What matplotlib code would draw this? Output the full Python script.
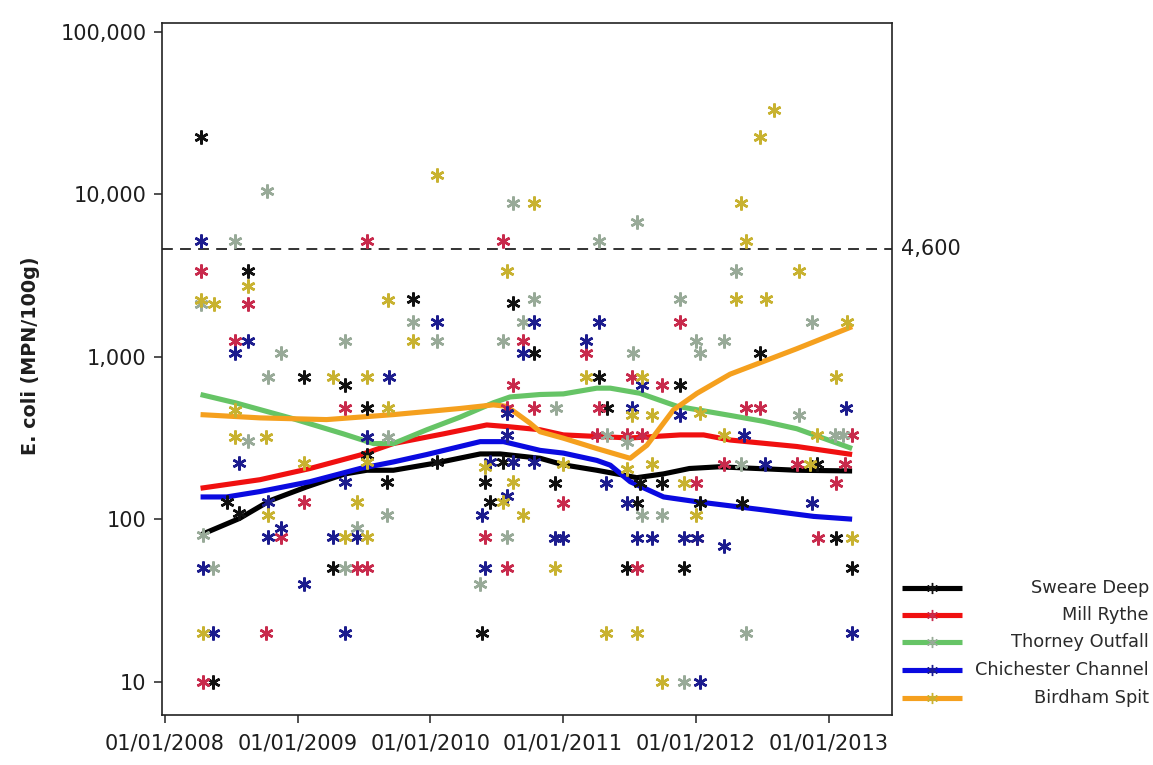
import datetime as dt

import matplotlib
matplotlib.use("Agg")
import matplotlib.pyplot as plt
import matplotlib.dates as mdates
from matplotlib.lines import Line2D
from matplotlib.ticker import FixedLocator, FuncFormatter, NullLocator

# ---------------------------------------------------------------- data
sites = ["Sweare Deep", "Mill Rythe", "Thorney Outfall",
         "Chichester Channel", "Birdham Spit"]

# individual E. coli results (MPN/100g)
sweare_dates = ["2008-04-08", "2008-05-13", "2008-06-19", "2008-07-23", "2008-08-17",
                "2009-01-18", "2009-04-07", "2009-05-11", "2009-07-10", "2009-07-10",
                "2009-09-02", "2009-11-15", "2010-01-18", "2010-05-22", "2010-05-31",
                "2010-06-14", "2010-07-21", "2010-08-15", "2010-08-17", "2010-10-12",
                "2010-12-10", "2011-04-09", "2011-05-02", "2011-06-26", "2011-07-25",
                "2011-08-01", "2011-09-30", "2011-11-20", "2011-11-29", "2012-01-14",
                "2012-05-08", "2012-06-25", "2012-11-30", "2013-01-22", "2013-03-07"]
sweare_ecoli = [22600, 10, 128, 109, 3370,
                750, 50, 670, 480, 250,
                170, 2260, 225, 20, 170,
                128, 225, 225, 2130, 1060,
                166, 750, 480, 50, 125,
                166, 166, 670, 50, 125,
                125, 1060, 220, 77, 50]

mill_dates = ["2008-04-08", "2008-04-14", "2008-07-12", "2008-08-17", "2008-10-05",
              "2008-11-16", "2009-01-18", "2009-05-11", "2009-06-12", "2009-07-10",
              "2009-07-11", "2010-05-31", "2010-07-21", "2010-07-30", "2010-07-30",
              "2010-08-17", "2010-09-14", "2010-10-12", "2011-01-02", "2011-03-06",
              "2011-04-04", "2011-04-09", "2011-06-26", "2011-07-10", "2011-07-25",
              "2011-08-06", "2011-09-30", "2011-11-20", "2012-01-03", "2012-01-05",
              "2012-03-18", "2012-05-19", "2012-06-27", "2012-10-06", "2012-12-02",
              "2013-01-22", "2013-02-16", "2013-03-07"]
mill_ecoli = [3370, 10, 1250, 2100, 20,
              78, 128, 480, 50, 50,
              5150, 78, 5150, 480, 50,
              670, 1250, 480, 125, 1060,
              330, 480, 330, 750, 50,
              330, 670, 1625, 166, 77,
              220, 480, 480, 220, 77,
              166, 220, 330]

thorney_dates = ["2008-04-08", "2008-04-14", "2008-05-13", "2008-07-12", "2008-08-17",
                 "2008-10-07", "2008-10-12", "2008-11-16", "2009-05-11", "2009-05-11",
                 "2009-06-12", "2009-09-02", "2009-09-06", "2009-11-15", "2010-01-20",
                 "2010-05-18", "2010-07-21", "2010-07-30", "2010-08-15", "2010-09-14",
                 "2010-10-12", "2010-12-13", "2011-04-09", "2011-05-02", "2011-06-26",
                 "2011-07-12", "2011-07-25", "2011-08-06", "2011-09-30", "2011-11-20",
                 "2011-11-29", "2012-01-03", "2012-01-14", "2012-03-18", "2012-04-22",
                 "2012-05-05", "2012-05-19", "2012-10-11", "2012-11-16", "2013-01-20",
                 "2013-02-11"]
thorney_ecoli = [2100, 80, 50, 5150, 303,
                 10500, 750, 1060, 1250, 50,
                 88, 106, 322, 1625, 1250,
                 40, 1250, 78, 8870, 1625,
                 2260, 480, 5150, 330, 300,
                 1060, 6700, 106, 106, 2260,
                 10, 1250, 1060, 1250, 3370,
                 220, 20, 440, 1625, 330,
                 330]

chichester_dates = ["2008-04-08", "2008-04-14", "2008-05-13", "2008-07-12", "2008-07-23",
                    "2008-08-17", "2008-10-12", "2008-10-12", "2008-11-16", "2009-01-18",
                    "2009-04-07", "2009-05-11", "2009-05-11", "2009-06-12", "2009-07-10",
                    "2009-09-09", "2010-01-20", "2010-05-22", "2010-05-31", "2010-06-14",
                    "2010-07-30", "2010-07-30", "2010-07-30", "2010-08-17", "2010-09-14",
                    "2010-10-12", "2010-10-12", "2010-12-10", "2011-01-02", "2011-03-06",
                    "2011-04-09", "2011-04-30", "2011-06-26", "2011-07-10", "2011-07-25",
                    "2011-08-06", "2011-09-03", "2011-11-20", "2011-11-29", "2012-01-05",
                    "2012-01-14", "2012-03-18", "2012-05-12", "2012-07-11", "2012-11-16",
                    "2013-02-19", "2013-03-07"]
chichester_ecoli = [5150, 50, 20, 1060, 223,
                    1250, 128, 78, 88, 40,
                    78, 170, 20, 78, 322,
                    750, 1625, 106, 50, 225,
                    450, 138, 330, 225, 1060,
                    1625, 225, 77, 77, 1250,
                    1625, 166, 125, 480, 77,
                    670, 77, 440, 77, 77,
                    10, 68, 330, 220, 125,
                    480, 20]

birdham_dates = ["2008-04-08", "2008-04-14", "2008-05-15", "2008-07-12", "2008-07-12",
                 "2008-08-17", "2008-10-05", "2008-10-12", "2009-01-18", "2009-04-07",
                 "2009-05-11", "2009-06-12", "2009-07-10", "2009-07-11", "2009-07-11",
                 "2009-09-06", "2009-09-06", "2009-11-15", "2010-01-20", "2010-05-31",
                 "2010-07-21", "2010-07-30", "2010-08-17", "2010-09-14", "2010-10-12",
                 "2010-12-10", "2011-01-02", "2011-03-06", "2011-04-30", "2011-06-26",
                 "2011-07-10", "2011-07-25", "2011-08-06", "2011-09-03", "2011-09-03",
                 "2011-09-30", "2011-11-29", "2012-01-03", "2012-01-14", "2012-03-18",
                 "2012-04-22", "2012-05-05", "2012-05-19", "2012-06-25", "2012-07-13",
                 "2012-08-03", "2012-10-11", "2012-11-12", "2012-11-30", "2013-01-22",
                 "2013-02-21", "2013-03-07"]
birdham_ecoli = [2230, 20, 2100, 470, 322,
                 2720, 322, 106, 223, 750,
                 78, 128, 225, 750, 78,
                 2230, 480, 1250, 13200, 210,
                 128, 3370, 170, 106, 8870,
                 50, 220, 750, 20, 205,
                 440, 20, 750, 440, 220,
                 10, 166, 106, 450, 330,
                 2260, 8870, 5150, 22600, 2260,
                 33000, 3370, 220, 330, 750,
                 1625, 77]

# smoothed trend per site
sweare_trend_dates = ["2008-04-08", "2008-07-24", "2008-10-16", "2009-01-25", "2009-05-11",
                      "2009-07-10", "2009-09-21", "2010-01-18", "2010-05-18", "2010-07-12",
                      "2010-10-30", "2011-01-02", "2011-04-04", "2011-06-20", "2011-07-23",
                      "2011-10-05", "2011-12-15", "2012-03-05", "2012-10-06", "2013-03-07"]
sweare_trend = [80, 101, 130, 158, 190,
                200, 200, 222, 252, 252,
                237, 216, 200, 186, 180,
                190, 205, 210, 200, 198]

mill_trend_dates = ["2008-04-08", "2008-09-19", "2009-02-03", "2009-06-21", "2009-09-21",
                    "2010-02-06", "2010-06-05", "2010-08-08", "2010-10-30", "2011-01-02",
                    "2011-07-05", "2011-11-20", "2012-01-23", "2012-04-05", "2012-10-06",
                    "2013-03-07"]
mill_trend = [155, 175, 205, 248, 292,
              335, 380, 370, 355, 330,
              316, 330, 330, 307, 280,
              250]

thorney_trend_dates = ["2008-04-08", "2008-07-13", "2008-12-19", "2009-05-06", "2009-07-28",
                       "2009-09-21", "2009-12-22", "2010-03-24", "2010-06-23", "2010-08-08",
                       "2010-10-30", "2011-01-02", "2011-04-04", "2011-05-11", "2011-08-01",
                       "2011-11-11", "2012-04-05", "2012-07-06", "2012-10-06", "2013-03-07"]
thorney_trend = [585, 520, 415, 335, 292,
                 292, 355, 425, 520, 565,
                 585, 590, 640, 640, 595,
                 495, 435, 400, 360, 272]

chichester_trend_dates = ["2008-04-08", "2008-06-19", "2008-09-19", "2009-02-03", "2009-06-21",
                          "2009-09-21", "2009-12-22", "2010-05-18", "2010-07-21", "2010-10-30",
                          "2011-01-02", "2011-04-04", "2011-05-11", "2011-07-05", "2011-10-05",
                          "2012-01-05", "2012-07-06", "2012-11-21", "2013-03-07"]
chichester_trend = [137, 137, 148, 170, 205,
                    225, 250, 300, 300, 265,
                    255, 230, 215, 170, 137,
                    128, 114, 104, 100]

birdham_trend_dates = ["2008-04-08", "2008-09-19", "2009-03-21", "2009-09-21", "2010-03-24",
                       "2010-06-23", "2010-07-30", "2010-10-02", "2010-10-30", "2011-01-02",
                       "2011-04-04", "2011-06-26", "2011-07-05", "2011-08-20", "2011-11-01",
                       "2012-01-05", "2012-04-05", "2012-10-06", "2013-03-07"]
birdham_trend = [440, 420, 410, 440, 480,
                 505, 495, 390, 345, 315,
                 272, 240, 237, 285, 470,
                 595, 780, 1120, 1530]

threshold = 4600
x_tick_dates = ["2008-01-01", "2009-01-01", "2010-01-01", "2011-01-01",
                "2012-01-01", "2013-01-01"]
y_ticks = [10, 100, 1000, 10000, 100000]

# ---------------------------------------------------------------- style
line_colors = ["#000000", "#f01010", "#66c466", "#0a0ae0", "#f5a01e"]
point_colors = ["#111111", "#c82a4c", "#98aa98", "#1c1c8e", "#c8b230"]
text_color = "#1e1e1e"


def to_dates(values):
    return [dt.date.fromisoformat(v) for v in values]


point_sets = [(sweare_dates, sweare_ecoli), (mill_dates, mill_ecoli),
              (thorney_dates, thorney_ecoli), (chichester_dates, chichester_ecoli),
              (birdham_dates, birdham_ecoli)]
trend_sets = [(sweare_trend_dates, sweare_trend), (mill_trend_dates, mill_trend),
              (thorney_trend_dates, thorney_trend),
              (chichester_trend_dates, chichester_trend),
              (birdham_trend_dates, birdham_trend)]

W, H = 1153, 765
fig = plt.figure(figsize=(W / 100, H / 100), dpi=100)
fig.patch.set_facecolor("white")

left, right, top, bottom = 161.7, 891.7, 22.7, 715.0
ax = fig.add_axes([left / W, 1 - bottom / H, (right - left) / W, (bottom - top) / H])

asterisk = (6, 2, 0)

for (dts, vals), lc in zip(trend_sets, line_colors):
    ax.plot(to_dates(dts), vals, color=lc, lw=3.7, solid_capstyle="butt",
            solid_joinstyle="round", zorder=2)

for (dts, vals), pc in zip(point_sets, point_colors):
    ax.plot(to_dates(dts), vals, linestyle="none", marker=asterisk, ms=10,
            mew=1.8, mec=pc, mfc=pc, zorder=3)

ax.axhline(threshold, color="#222222", lw=1.3, dashes=(6, 4), zorder=1)
ax.annotate(f"{threshold:,}", xy=(1.0, threshold),
            xycoords=ax.get_yaxis_transform(), xytext=(7, 0),
            textcoords="offset points", ha="left", va="center",
            fontsize=15, color=text_color)

ax.set_yscale("log")
ax.set_ylim(10 ** 0.795, 10 ** 5.055)
ax.set_xlim(dt.date(2007, 12, 23), dt.date(2013, 6, 24))

ax.yaxis.set_major_locator(FixedLocator(y_ticks))
ax.yaxis.set_minor_locator(NullLocator())
ax.yaxis.set_major_formatter(FuncFormatter(lambda v, _: f"{v:,.0f}"))
ax.xaxis.set_major_locator(FixedLocator(mdates.date2num(to_dates(x_tick_dates))))
ax.xaxis.set_major_formatter(mdates.DateFormatter("%d/%m/%Y"))

ax.tick_params(axis="both", direction="out", length=6, width=1.1,
               labelsize=15, labelcolor=text_color, color="#222222")
ax.tick_params(axis="x", pad=7)
ax.tick_params(axis="y", pad=5)
for sp in ax.spines.values():
    sp.set_color("#222222")
    sp.set_linewidth(1.2)

fig.text(31 / W, 1 - 356 / H, "E. coli (MPN/100g)", rotation=90,
         ha="center", va="center", fontsize=13.8, fontweight="bold",
         color=text_color)

# legend, drawn with line samples and right-aligned names
row_y = [588, 615, 642, 670, 698]
for name, lc, pc, yy in zip(sites, line_colors, point_colors, row_y):
    fy = 1 - yy / H
    fig.add_artist(Line2D([902 / W, 962 / W], [fy, fy], transform=fig.transFigure,
                          color=lc, lw=3.7, solid_capstyle="butt"))
    fig.add_artist(Line2D([932 / W], [fy], transform=fig.transFigure,
                          linestyle="none", marker=asterisk, ms=8, mew=1.0,
                          mec=pc))
    fig.text(1149 / W, fy, name, ha="right", va="center", fontsize=12.8,
             color="#2a2a2a")

fig.savefig("out.png", dpi=100, facecolor="white")
